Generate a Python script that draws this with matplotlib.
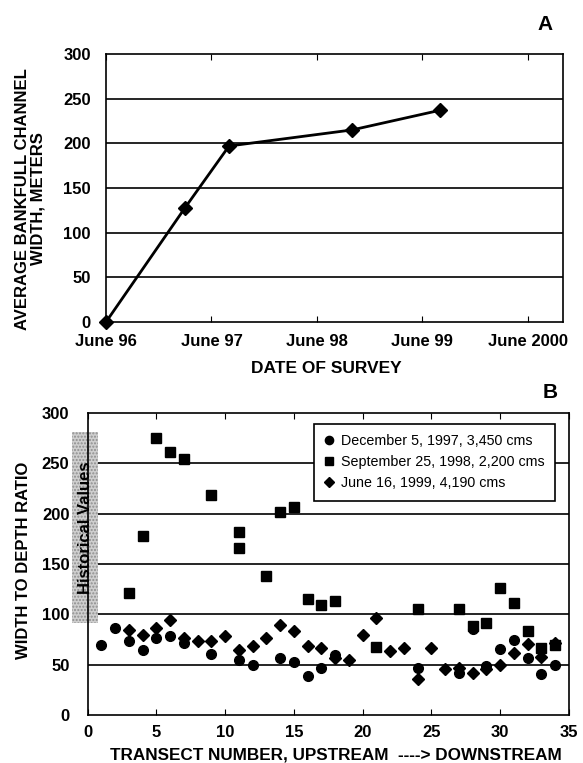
import matplotlib
matplotlib.use("Agg")
import matplotlib.pyplot as plt
from matplotlib.patches import Rectangle

plt.rcParams['font.family'] = ['Liberation Sans', 'DejaVu Sans']

# Panel A: average bankfull channel width (months after June 1996)
survey_months = [0, 9, 14, 28, 38]
channel_width = [0, 128, 197, 215, 237]
a_tick_months = [0, 12, 24, 36, 48]
a_tick_labels = ["June 96", "June 97", "June 98", "June 99", "June 2000"]

# Panel B: width to depth ratio by transect
dec97_x = [1, 2, 3, 4, 5, 6, 7, 9, 11, 12, 14, 15, 16, 17, 18, 24, 27, 28, 29, 30, 31, 32, 33, 34]
dec97_y = [70, 86, 74, 65, 76, 78, 72, 61, 55, 50, 57, 53, 39, 47, 60, 47, 42, 85, 49, 66, 75, 57, 41, 50]

sep98_x = [3, 4, 5, 6, 7, 9, 11, 11, 13, 14, 15, 16, 17, 18, 21, 24, 27, 28, 29, 30, 31, 32, 33, 34]
sep98_y = [121, 178, 275, 261, 254, 219, 182, 166, 138, 202, 207, 115, 109, 113, 68, 105, 105, 88, 91, 126, 111, 83, 67, 70]

jun99_x = [3, 4, 5, 6, 7, 8, 9, 10, 11, 12, 13, 14, 15, 16, 17, 18, 19, 20, 21, 22, 23, 24, 25, 26, 27, 28, 29, 30, 31, 32, 33, 34]
jun99_y = [84, 79, 86, 94, 76, 74, 74, 78, 65, 69, 76, 89, 83, 69, 67, 57, 55, 79, 96, 64, 67, 36, 67, 46, 47, 42, 46, 50, 62, 71, 58, 72]

legend_labels = ["December 5, 1997, 3,450 cms",
                 "September 25, 1998, 2,200 cms",
                 "June 16, 1999, 4,190 cms"]

fig = plt.figure(figsize=(5.83, 7.63), dpi=100)
W, H = 583.0, 763.0

# ---- panel A ----
axA = fig.add_axes([106 / W, 1 - 322 / H, 457 / W, 268 / H])
for yv in [50, 100, 150, 200, 250]:
    axA.axhline(yv, color='black', lw=1.2, zorder=1)
axA.plot(survey_months, channel_width, color='black', lw=2.0, marker='D',
         markersize=7.5, zorder=3, clip_on=False)
axA.set_xlim(0, 52)
axA.set_ylim(0, 300)
axA.set_xticks(a_tick_months)
axA.set_xticklabels(a_tick_labels, fontsize=12, fontweight='bold')
axA.set_yticks([0, 50, 100, 150, 200, 250, 300])
axA.set_yticklabels(["0", "50", "100", "150", "200", "250", "300"], fontsize=12, fontweight='bold')
axA.tick_params(axis='x', direction='in', length=4, top=True, pad=9)
axA.tick_params(axis='y', length=0, pad=11)
for sp in axA.spines.values():
    sp.set_linewidth(1.2)
fig.text(326 / W, 1 - 369 / H, "DATE OF SURVEY", ha='center', va='center',
         fontsize=12.5, fontweight='bold')
fig.text(30 / W, 1 - 199 / H, "AVERAGE BANKFULL CHANNEL\nWIDTH, METERS",
         rotation=90, ha='center', va='center', multialignment='center',
         fontsize=12, fontweight='bold', linespacing=1.05)
fig.text(545 / W, 1 - 24 / H, "A", ha='center', va='center', fontsize=15, fontweight='bold')

# ---- panel B ----
axB = fig.add_axes([87.5 / W, 1 - 715 / H, 481.5 / W, 302 / H])
for yv in [50, 100, 150, 200, 250]:
    axB.axhline(yv, color='black', lw=1.2, zorder=1)

hist_box = Rectangle((-1.1, 91), 1.88, 190, facecolor='#cfcfcf', edgecolor='#8f8f8f',
                     hatch='.....', lw=0, clip_on=False, zorder=2)
axB.add_patch(hist_box)
axB.text(-0.18, 186, "Historical Values", rotation=90, ha='center', va='center',
         fontsize=12, fontweight='bold', clip_on=False, zorder=3)

axB.plot(dec97_x, dec97_y, 'o', color='black', markersize=7, zorder=4, label=legend_labels[0])
axB.plot(sep98_x, sep98_y, 's', color='black', markersize=6.8, zorder=4, label=legend_labels[1])
axB.plot(jun99_x, jun99_y, 'D', color='black', markersize=5.8, zorder=4, label=legend_labels[2])

axB.set_xlim(0, 35)
axB.set_ylim(0, 300)
axB.set_xticks([0, 5, 10, 15, 20, 25, 30, 35])
axB.set_xticklabels(["0", "5", "10", "15", "20", "25", "30", "35"], fontsize=12, fontweight='bold')
axB.set_yticks([0, 50, 100, 150, 200, 250, 300])
axB.set_yticklabels(["0", "50", "100", "150", "200", "250", "300"], fontsize=12, fontweight='bold')
axB.tick_params(axis='x', direction='in', length=4, top=True, pad=7)
axB.tick_params(axis='y', length=0, pad=13)
for sp in axB.spines.values():
    sp.set_linewidth(1.2)

leg = axB.legend(loc='upper left', bbox_to_anchor=(0.471, 0.963), fontsize=10.3,
                 frameon=True, fancybox=False, framealpha=1, edgecolor='black',
                 handlelength=0.6, handletextpad=0.6, labelspacing=0.5,
                 borderpad=0.7, borderaxespad=0, markerscale=0.85)
leg.get_frame().set_linewidth(1.2)
leg.set_zorder(5)

fig.text(336 / W, 1 - 755 / H, "TRANSECT NUMBER, UPSTREAM  ----> DOWNSTREAM",
         ha='center', va='center', fontsize=12.3, fontweight='bold')
fig.text(24 / W, 1 - 560 / H, "WIDTH TO DEPTH RATIO", rotation=90, ha='center',
         va='center', fontsize=12, fontweight='bold')
fig.text(550 / W, 1 - 392 / H, "B", ha='center', va='center', fontsize=15, fontweight='bold')

fig.savefig("out.png", dpi=100)
